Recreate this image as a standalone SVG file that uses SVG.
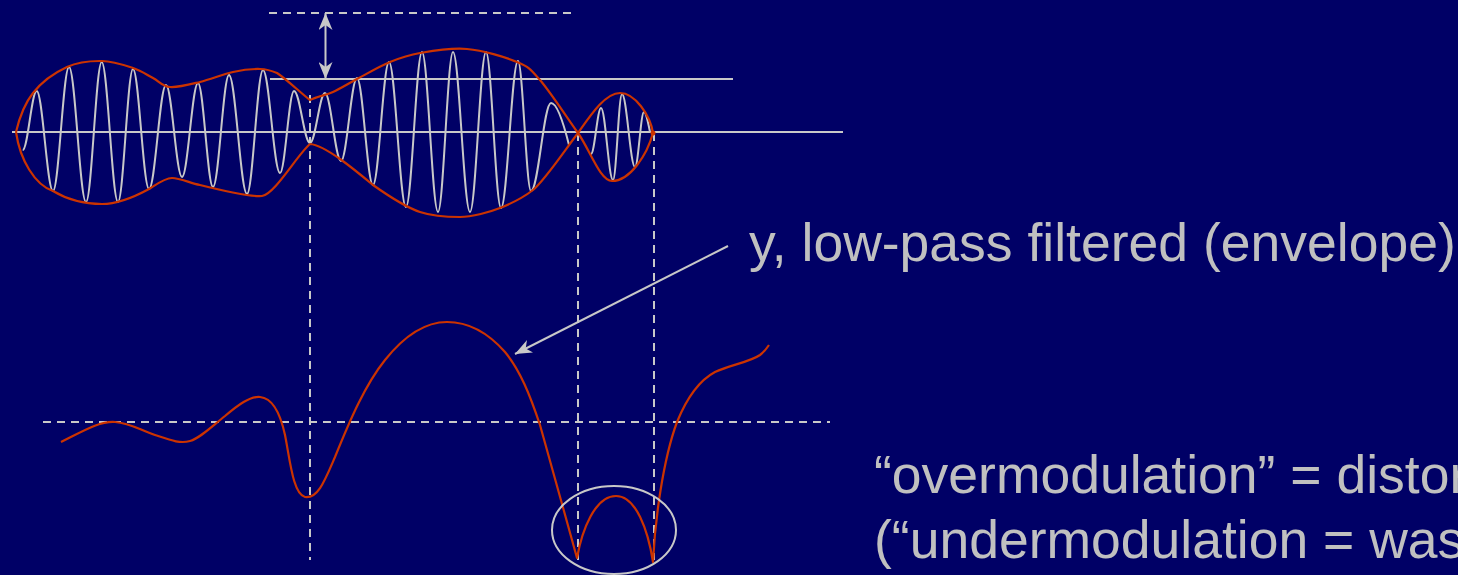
<svg xmlns="http://www.w3.org/2000/svg" width="1458" height="575" viewBox="0 0 1458 575">
<style>
.ln{stroke:#c8c8c8;stroke-width:2;fill:none}
.dash{stroke:#c8c8c8;stroke-width:2;fill:none;stroke-dasharray:8 6}
.env{stroke:#cc3300;stroke-width:2.2;fill:none;stroke-linejoin:round}
.car{stroke:#c8c8c8;stroke-width:2;fill:none}
.txt{font-family:"Liberation Sans",Arial,sans-serif;font-size:53.5px;fill:#c0c0c0}
</style>
<defs>
<marker id="ah" markerUnits="userSpaceOnUse" markerWidth="17" markerHeight="14" refX="17" refY="7" orient="auto-start-reverse">
<path d="M17,7 L0,0 L5,7 L0,14 Z" fill="#c8c8c8"/>
</marker>
</defs>
<rect width="1458" height="575" fill="#000066"/>

<g id="guides">
<line class="ln" x1="12" y1="132" x2="843" y2="132"/>
<line class="ln" x1="270" y1="79" x2="733" y2="79"/>
<line class="dash" x1="269" y1="13" x2="572" y2="13"/>
<line class="dash" x1="310" y1="95" x2="310" y2="560"/>
<line class="dash" x1="578" y1="133" x2="578" y2="560"/>
<line class="dash" x1="654" y1="133" x2="654" y2="560"/>
<line class="dash" x1="43" y1="422" x2="830" y2="422"/>
</g>

<g id="carrier">
<path class="car" d="M22.7,150 C27.8,150 31.6,91 36.7,91 C42.6,91 47.1,191 53,191 C58.8,191 63.2,67 69,67 C75.2,67 79.8,202 86,202 C91.7,202 96,62 101.7,62 C107.6,62 112.1,202 118,202 C123.4,202 127.6,69 133,69 C138.8,69 143.2,189 149,189 C155.2,189 159.8,85 166,85 C171.8,85 176.2,177 182,177 C187.8,177 192.2,83 198,83 C203.4,83 207.6,187 213,187 C218.8,187 223.2,75 229,75 C235.5,75 240.5,194 247,194 C252.8,194 257.2,70 263,70 C269.2,70 273.8,173 280,173 C285.1,173 288.9,91 294,91 C299.8,91 304.2,143 310,143 C315.4,143 319.6,93 325,93 C330.8,93 335.2,161 341,161 C346.8,161 351.2,78 357,78 C362.8,78 367.2,185 373,185 C378.8,185 383.2,62 389,62 C395.2,62 399.8,207 406,207 C411.8,207 416.2,52 422,52 C427.8,52 432.2,212 438,212 C443.4,212 447.6,52 453,52 C459.2,52 463.8,212 470,212 C475.8,212 480.2,52 486,52 C491.4,52 495.6,208 501,208 C507.2,208 511.8,61 518,61 C522.7,61 526.3,191 531,191 C538.3,191 543.7,103 551,103 C557,103 564,125 569,145"/>
<path class="car" d="M591,154 C594.6,154 597.4,108 601,108 C605.4,108 608.6,180 613,180 C616.3,180 618.7,94 622,94 C626.7,94 630.3,167 635,167 C638.3,167 640.7,112 644,112 C646,112 648,122 650,132"/>
</g>

<g id="envelope">
<path class="env" d="M16,132 C20,115 24.5,103.8 33,93 C41.5,82.2 55.5,72.3 67,67 C78.5,61.7 91,60.8 102,61 C113,61.2 124.5,65.2 133,68 C141.5,70.8 146.8,74.8 153,78 C159.2,81.2 162.2,86.3 170,87 C177.8,87.7 189.5,84.5 200,82 C210.5,79.5 223,74.2 233,72 C243,69.8 252.7,68.8 260,69 C267.3,69.2 270,70 277,73 C285.3,78.2 302,94 310,100 C318,96 325.2,95.5 333,92 C340.8,88.5 347.5,84 357,79 C366.5,74 379.5,66.3 390,62 C400.5,57.7 407.2,55.2 420,53 C432.8,50.8 450.8,47.5 467,49 C483.2,50.5 504.8,56.8 517,62 C529.2,67.2 529.8,68.2 540,80 C550.2,91.8 566,116.2 578,133 C590,150 600,181 612,181 C630,181 647,155 653,133"/>
<path class="env" d="M16,132 C20,160 35,185 53,191 C68,200 85,204 102,204 C120,204 138,195 149,189 C157,184 165,178 172,178 C180,178 190,183 200,185 C220,190 252,197 262,196 C275,194 297,155 310,144 C325,145 355,170 373,185 C390,197 405,207 420,212 C432,216 448,217 460,217 C472,217 490,212 500,208 C510,204 524,197 533,190 C545,180 565,150 578,133 C590,116 605,93 620,93 C635,93 650,115 653,133"/>
<circle cx="653" cy="133" r="2.5" fill="#cc3300"/>
</g>

<g id="lowpass">
<path class="env" d="M61,442 C85,430 100,421 115,422 C130,423 140,430 155,435 C170,440 180,444 190,441 C200,438 210,428 225,416 C238,405 250,396 260,397 C272,398 280,412 285,435 C290,460 293,494 305,497 C318,499 325,480 335,457 C350,420 365,385 385,360 C405,335 425,322 447,322 C470,322 490,335 505,352 C520,370 530,395 540,425 C550,460 565,515 577,558 C582,530 595,496 616,496 C636,496 648,530 653,562 C655,520 663,460 677,422 C688,395 700,380 715,372 C730,365 750,362 760,355 C764,352 767,348 769,345"/>
</g>

<g id="highlight">
<ellipse class="ln" cx="614" cy="530" rx="62" ry="44"/>
</g>

<g id="connectors">
<line class="ln" x1="325.5" y1="13" x2="325.5" y2="79" marker-start="url(#ah)" marker-end="url(#ah)"/>
<line class="ln" x1="728" y1="246" x2="515" y2="354" marker-end="url(#ah)"/>
</g>

<g id="labels">
<text class="txt" x="749" y="261">y, low-pass filtered (envelope)</text>
<text class="txt" x="874" y="493">“overmodulation” = distor</text>
<text class="txt" x="874" y="558">(“undermodulation = was</text>
</g>
</svg>
